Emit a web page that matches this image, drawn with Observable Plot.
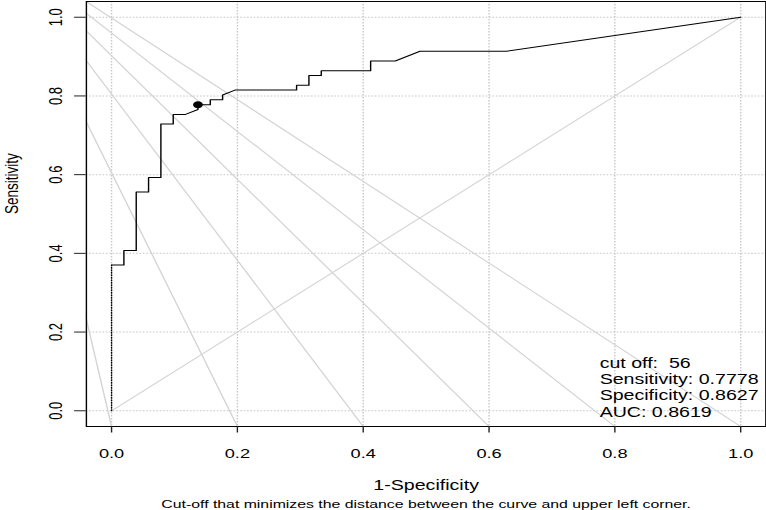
<!DOCTYPE html>
<html>
<head>
<meta charset="utf-8">
<script src="https://cdn.jsdelivr.net/npm/d3@7"></script>
<script src="https://cdn.jsdelivr.net/npm/@observablehq/plot@0.6"></script>
<style>
  html, body { margin: 0; padding: 0; background: white; }
  #chart svg { display: block; }
</style>
</head>
<body>
<div id="chart"></div>
<script>
// ---- data ----
const fpr = [0, 0.0196, 0.0196, 0.0392, 0.0392, 0.0588, 0.0588, 0.0784, 0.0784, 0.0980, 0.0980, 0.1176, 0.1373, 0.1373, 0.1569, 0.1569, 0.1765, 0.1765, 0.1961, 0.2941, 0.2941, 0.3137, 0.3137, 0.3333, 0.3333, 0.4118, 0.4118, 0.4510, 0.4902, 0.6275, 1.0];
const tpr = [0.3704, 0.3704, 0.4074, 0.4074, 0.5556, 0.5556, 0.5926, 0.5926, 0.7284, 0.7284, 0.7531, 0.7531, 0.7654, 0.7778, 0.7778, 0.7901, 0.7901, 0.8025, 0.8148, 0.8148, 0.8272, 0.8272, 0.8519, 0.8519, 0.8642, 0.8642, 0.8889, 0.8889, 0.9136, 0.9136, 1.0];
const startFpr = [0, 0];
const startTpr = [0, 0.3704];
const chanceFpr = [0, 1];
const chanceTpr = [0, 1];
const cutFpr = [0.1373];
const cutTpr = [0.7778];
const guideFrom = [-0.18, 1.185];              // common point of the grey iso-lines
const guideBottomX = [0, 0.2, 0.4, 0.6, 0.8, 1.0]; // where they meet the lower edge
const guideBottomY = -0.04;
const xTicks = [0, 0.2, 0.4, 0.6, 0.8, 1.0];
const yTicks = [0, 0.2, 0.4, 0.6, 0.8, 1.0];
const legendLabels = ["cut off:\u00a0", "Sensitivity:", "Specificity:", "AUC:"];
const legendValues = ["56", "0.7778", "0.8627", "0.8619"];
const xTitle = "1-Specificity";
const yTitle = "Sensitivity";
const captionText = "Cut-off that minimizes the distance between the curve and upper left corner.";

// ---- build tables ----
const roc = fpr.map((x, i) => ({x, y: tpr[i]}));
const rocStart = startFpr.map((x, i) => ({x, y: startTpr[i]}));
const chance = chanceFpr.map((x, i) => ({x, y: chanceTpr[i]}));
const cut = cutFpr.map((x, i) => ({x, y: cutTpr[i]}));
const legendText = legendLabels.map((l, i) => l + "\u00a0" + legendValues[i]).join("\n");

const W = 547, H = 510, OUTW = 766;
const fmt = d3.format(".1f");
const font = "'Liberation Sans', Arial, Helvetica, sans-serif";

const chart = Plot.plot({
  width: W, height: H,
  marginLeft: 61.2, marginRight: 0.6, marginTop: 1, marginBottom: 84,
  style: {fontFamily: font, fontSize: "13px", background: "white", color: "black"},
  x: {domain: [-0.04, 1.04], label: null},
  y: {domain: [-0.04, 1.04], label: null},
  marks: [
    Plot.gridX(xTicks, {stroke: "#c8c8c8", strokeOpacity: 1, strokeDasharray: "1.5,1.5"}),
    Plot.gridY(yTicks, {stroke: "#c8c8c8", strokeOpacity: 1, strokeDasharray: "1.2,1.2"}),
    Plot.link(guideBottomX, {x1: () => guideFrom[0], y1: () => guideFrom[1], x2: d => d, y2: () => guideBottomY,
      stroke: "#d3d3d3", strokeWidth: 1, clip: true}),
    Plot.line(chance, {x: "x", y: "y", stroke: "#d3d3d3", strokeWidth: 1}),
    Plot.line(rocStart, {x: "x", y: "y", stroke: "black", strokeWidth: 1, strokeDasharray: "1,1.5"}),
    Plot.line(roc, {x: "x", y: "y", stroke: "black", strokeWidth: 1, curve: "linear"}),
    Plot.dot(cut, {x: "x", y: "y", r: 3.5, fill: "black", stroke: "none"}),
    Plot.frame({stroke: "black", strokeWidth: 1}),
    Plot.axisX(xTicks, {tickSize: 6.5, tickPadding: 15.8, tickFormat: fmt, fontSize: 13, stroke: "#222"}),
    Plot.axisY(yTicks, {tickSize: 8.3, tickPadding: 8.8, tickRotate: -90, tickFormat: fmt, fontSize: 13, stroke: "#222"}),
    Plot.text([xTitle], {frameAnchor: "bottom", dy: 63, text: d => d, fontSize: 14, lineAnchor: "bottom"}),
    Plot.text([yTitle], {frameAnchor: "left", dx: -49, text: d => d, fontSize: 13.5, rotate: -90, lineAnchor: "bottom"}),
    Plot.text([captionText], {frameAnchor: "bottom", dy: 81, text: d => d, fontSize: 11.3, lineAnchor: "bottom"}),
    Plot.text([legendText], {frameAnchor: "bottom-left", dx: 366.5, dy: -10, text: d => d, fontSize: 14,
      textAnchor: "start", lineAnchor: "bottom", lineHeight: 1.165})
  ]
});

// the reference was drawn narrower and stretched horizontally; do the same
chart.setAttribute("width", OUTW);
chart.setAttribute("height", H);
chart.setAttribute("viewBox", `0 0 ${W} ${H}`);
chart.setAttribute("preserveAspectRatio", "none");
chart.style.width = OUTW + "px";
chart.style.height = H + "px";
chart.style.maxWidth = "none";
document.getElementById("chart").appendChild(chart);
</script>
</body>
</html>
